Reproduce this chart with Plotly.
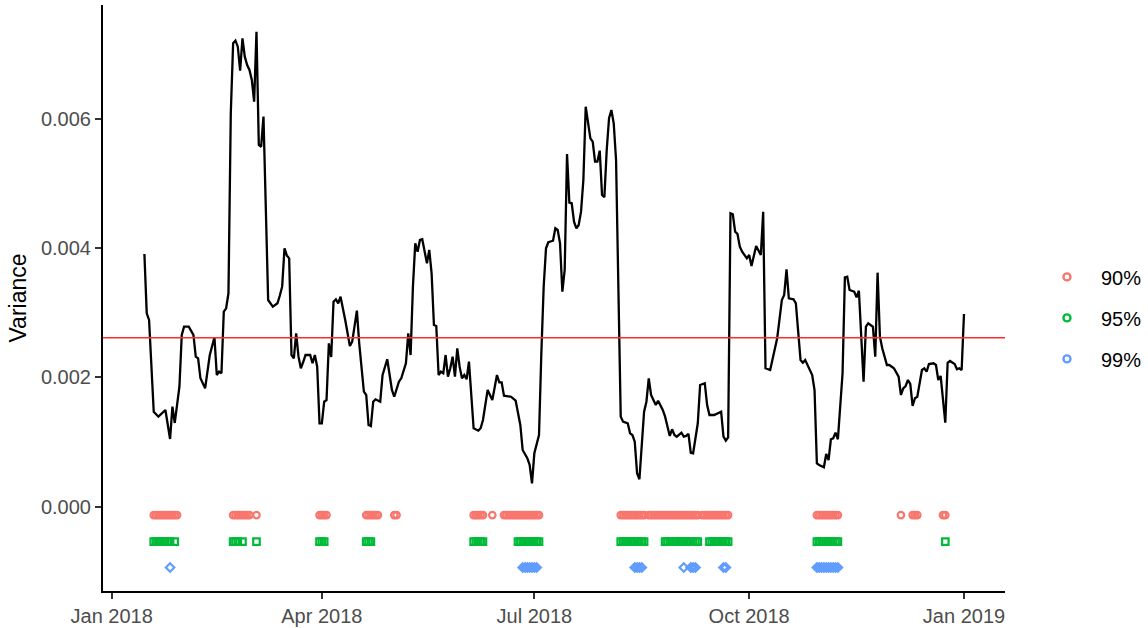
import pandas as pd
import plotly.graph_objects as go

# ---- data ----
dates = [
    "2018-01-15", "2018-01-16", "2018-01-17", "2018-01-19", "2018-01-21", "2018-01-24", "2018-01-26", "2018-01-27",
    "2018-01-28", "2018-01-30", "2018-01-31", "2018-02-01", "2018-02-03", "2018-02-05", "2018-02-06", "2018-02-07",
    "2018-02-08", "2018-02-10", "2018-02-12", "2018-02-14", "2018-02-15", "2018-02-16", "2018-02-17", "2018-02-18",
    "2018-02-19", "2018-02-20", "2018-02-21", "2018-02-22", "2018-02-23", "2018-02-24", "2018-02-25", "2018-02-26",
    "2018-02-27", "2018-02-28", "2018-03-01", "2018-03-02", "2018-03-03", "2018-03-04", "2018-03-05", "2018-03-06",
    "2018-03-07", "2018-03-09", "2018-03-11", "2018-03-13", "2018-03-14", "2018-03-15", "2018-03-16", "2018-03-17",
    "2018-03-18", "2018-03-19", "2018-03-20", "2018-03-21", "2018-03-22", "2018-03-23", "2018-03-24", "2018-03-25",
    "2018-03-27", "2018-03-28", "2018-03-29", "2018-03-30", "2018-03-31", "2018-04-01", "2018-04-02", "2018-04-03",
    "2018-04-04", "2018-04-05", "2018-04-06", "2018-04-07", "2018-04-08", "2018-04-09", "2018-04-11", "2018-04-13",
    "2018-04-14", "2018-04-16", "2018-04-17", "2018-04-19", "2018-04-20", "2018-04-21", "2018-04-22", "2018-04-23",
    "2018-04-24", "2018-04-26", "2018-04-27", "2018-04-29", "2018-05-01", "2018-05-02", "2018-05-04", "2018-05-05",
    "2018-05-07", "2018-05-08", "2018-05-09", "2018-05-10", "2018-05-11", "2018-05-12", "2018-05-13", "2018-05-14",
    "2018-05-16", "2018-05-17", "2018-05-18", "2018-05-19", "2018-05-20", "2018-05-21", "2018-05-22", "2018-05-23",
    "2018-05-24", "2018-05-25", "2018-05-26", "2018-05-27", "2018-05-28", "2018-05-29", "2018-05-30", "2018-05-31",
    "2018-06-01", "2018-06-02", "2018-06-03", "2018-06-05", "2018-06-07", "2018-06-08", "2018-06-09", "2018-06-11",
    "2018-06-13", "2018-06-15", "2018-06-16", "2018-06-17", "2018-06-18", "2018-06-21", "2018-06-23", "2018-06-25",
    "2018-06-26", "2018-06-28", "2018-06-29", "2018-06-30", "2018-07-01", "2018-07-02", "2018-07-03", "2018-07-04",
    "2018-07-05", "2018-07-06", "2018-07-07", "2018-07-09", "2018-07-10", "2018-07-11", "2018-07-12", "2018-07-13",
    "2018-07-14", "2018-07-15", "2018-07-16", "2018-07-17", "2018-07-18", "2018-07-19", "2018-07-20", "2018-07-21",
    "2018-07-22", "2018-07-23", "2018-07-24", "2018-07-25", "2018-07-26", "2018-07-27", "2018-07-28", "2018-07-29",
    "2018-07-30", "2018-07-31", "2018-08-01", "2018-08-02", "2018-08-03", "2018-08-04", "2018-08-05", "2018-08-07",
    "2018-08-08", "2018-08-10", "2018-08-11", "2018-08-12", "2018-08-13", "2018-08-14", "2018-08-15", "2018-08-16",
    "2018-08-17", "2018-08-18", "2018-08-19", "2018-08-20", "2018-08-22", "2018-08-23", "2018-08-25", "2018-08-26",
    "2018-08-28", "2018-08-29", "2018-08-30", "2018-08-31", "2018-09-01", "2018-09-02", "2018-09-03", "2018-09-04",
    "2018-09-05", "2018-09-06", "2018-09-07", "2018-09-09", "2018-09-10", "2018-09-12", "2018-09-13", "2018-09-14",
    "2018-09-16", "2018-09-19", "2018-09-20", "2018-09-21", "2018-09-22", "2018-09-23", "2018-09-24", "2018-09-25",
    "2018-09-26", "2018-09-27", "2018-09-28", "2018-09-30", "2018-10-01", "2018-10-02", "2018-10-04", "2018-10-06",
    "2018-10-07", "2018-10-08", "2018-10-10", "2018-10-12", "2018-10-13", "2018-10-15", "2018-10-16", "2018-10-17",
    "2018-10-18", "2018-10-20", "2018-10-21", "2018-10-23", "2018-10-24", "2018-10-25", "2018-10-26", "2018-10-28",
    "2018-10-29", "2018-10-30", "2018-10-31", "2018-11-02", "2018-11-03", "2018-11-04", "2018-11-05", "2018-11-06",
    "2018-11-07", "2018-11-08", "2018-11-10", "2018-11-11", "2018-11-12", "2018-11-13", "2018-11-15", "2018-11-16",
    "2018-11-17", "2018-11-18", "2018-11-19", "2018-11-20", "2018-11-21", "2018-11-23", "2018-11-24", "2018-11-25",
    "2018-11-26", "2018-11-27", "2018-11-29", "2018-11-30", "2018-12-02", "2018-12-04", "2018-12-05", "2018-12-06",
    "2018-12-07", "2018-12-08", "2018-12-09", "2018-12-10", "2018-12-11", "2018-12-12", "2018-12-14", "2018-12-15",
    "2018-12-16", "2018-12-17", "2018-12-19", "2018-12-20", "2018-12-21", "2018-12-22", "2018-12-24", "2018-12-25",
    "2018-12-26", "2018-12-28", "2018-12-29", "2018-12-30", "2018-12-31", "2019-01-01",
]

variance = [
    0.003909, 0.002992, 0.002888, 0.001469, 0.001392, 0.001496, 0.001047, 0.001547,
    0.001295, 0.001856, 0.002656, 0.002784, 0.002784, 0.002656, 0.002320, 0.002295,
    0.001986, 0.001831, 0.002346, 0.002620, 0.002037, 0.002088, 0.002063, 0.003016,
    0.003069, 0.003301, 0.006085, 0.007168, 0.007208, 0.007115, 0.006744, 0.007245,
    0.006961, 0.006832, 0.006755, 0.006600, 0.006265, 0.007347, 0.005595, 0.005568,
    0.006033, 0.003197, 0.003094, 0.003146, 0.003267, 0.003403, 0.003997, 0.003886,
    0.003842, 0.002346, 0.002295, 0.002682, 0.002320, 0.002141, 0.002238, 0.002346,
    0.002346, 0.002218, 0.002346, 0.002166, 0.001290, 0.001290, 0.001624, 0.001650,
    0.002527, 0.002316, 0.003171, 0.003208, 0.003146, 0.003248, 0.002888, 0.002486,
    0.002552, 0.003032, 0.002527, 0.001779, 0.001728, 0.001264, 0.001248, 0.001624,
    0.001661, 0.001624, 0.002037, 0.002280, 0.001805, 0.001701, 0.001934, 0.001986,
    0.002218, 0.002682, 0.002346, 0.003403, 0.004074, 0.003944, 0.004125, 0.004136,
    0.003765, 0.003971, 0.003610, 0.002811, 0.002795, 0.002037, 0.002088, 0.002063,
    0.002346, 0.002011, 0.002141, 0.002320, 0.002011, 0.002450, 0.002166, 0.001986,
    0.002037, 0.001971, 0.002243, 0.001213, 0.001176, 0.001213, 0.001341, 0.001805,
    0.001650, 0.002037, 0.001924, 0.001924, 0.001717, 0.001701, 0.001640, 0.001264,
    0.000877, 0.000749, 0.000645, 0.000362, 0.000826, 0.000970, 0.001109, 0.002373,
    0.003403, 0.003997, 0.004090, 0.004114, 0.004306, 0.004280, 0.004074, 0.003326,
    0.003661, 0.005456, 0.004702, 0.004693, 0.004408, 0.004306, 0.004357, 0.004563,
    0.005053, 0.006187, 0.005930, 0.005698, 0.005646, 0.005336, 0.005336, 0.005507,
    0.004821, 0.004786, 0.005517, 0.006008, 0.006136, 0.005930, 0.005363, 0.001392,
    0.001315, 0.001290, 0.001135, 0.001109, 0.001005, 0.000517, 0.000424, 0.000928,
    0.001469, 0.001624, 0.001986, 0.001728, 0.001573, 0.001640, 0.001496, 0.001392,
    0.001094, 0.001197, 0.001109, 0.001083, 0.001109, 0.001145, 0.001083, 0.001094,
    0.001125, 0.000835, 0.000826, 0.001290, 0.001882, 0.001909, 0.001573, 0.001418,
    0.001418, 0.001469, 0.001083, 0.001021, 0.001073, 0.004538, 0.004523, 0.004254,
    0.004218, 0.004022, 0.003944, 0.003842, 0.003893, 0.003723, 0.004033, 0.003893,
    0.004563, 0.002141, 0.002114, 0.002475, 0.002605, 0.003197, 0.003275, 0.003672,
    0.003224, 0.003208, 0.003146, 0.002269, 0.002227, 0.002269, 0.002192, 0.002037,
    0.001805, 0.000671, 0.000645, 0.000609, 0.000815, 0.000722, 0.001043, 0.001058,
    0.001145, 0.001043, 0.002063, 0.003548, 0.003558, 0.003352, 0.003326, 0.003239,
    0.003341, 0.002707, 0.001934, 0.002784, 0.002837, 0.002784, 0.002320, 0.003620,
    0.002630, 0.002450, 0.002192, 0.002192, 0.002141, 0.002011, 0.001728, 0.001831,
    0.001867, 0.001960, 0.001898, 0.001558, 0.001677, 0.001701, 0.002114, 0.002141,
    0.002088, 0.002207, 0.002218, 0.002192, 0.001960, 0.002022, 0.001299, 0.002227,
    0.002254, 0.002207, 0.002125, 0.002141, 0.002114, 0.002981,
]

mean_variance = 0.002614

levels = ["90%", "95%", "99%"]
level_y = [-0.00013, -0.00054, -0.00094]
level_colors = ["#F8766D", "#00BA38", "#619CFF"]
level_symbols = ["circle-open", "square-open", "diamond-open"]

# runs of days flagged at each level (start, end)
runs_90 = [
    ("2018-01-19", "2018-01-29"), ("2018-02-22", "2018-03-01"), ("2018-03-04", "2018-03-04"),
    ("2018-03-31", "2018-04-03"), ("2018-04-20", "2018-04-25"), ("2018-05-02", "2018-05-03"),
    ("2018-06-05", "2018-06-09"), ("2018-06-13", "2018-06-13"), ("2018-06-18", "2018-07-03"),
    ("2018-08-07", "2018-08-17"), ("2018-08-19", "2018-09-09"), ("2018-09-11", "2018-09-22"),
    ("2018-10-30", "2018-11-08"), ("2018-12-05", "2018-12-05"), ("2018-12-10", "2018-12-12"),
    ("2018-12-23", "2018-12-24"),
]
runs_95 = [
    ("2018-01-19", "2018-01-26"), ("2018-01-28", "2018-01-28"), ("2018-02-22", "2018-02-24"),
    ("2018-02-26", "2018-02-26"), ("2018-03-04", "2018-03-04"), ("2018-03-31", "2018-04-02"),
    ("2018-04-20", "2018-04-22"), ("2018-06-05", "2018-06-09"), ("2018-06-24", "2018-07-03"),
    ("2018-08-07", "2018-08-17"), ("2018-08-26", "2018-09-09"), ("2018-09-14", "2018-09-22"),
    ("2018-10-30", "2018-11-08"), ("2018-12-24", "2018-12-24"),
]
runs_99 = [
    ("2018-01-26", "2018-01-26"), ("2018-06-26", "2018-07-02"), ("2018-08-13", "2018-08-16"),
    ("2018-09-03", "2018-09-03"), ("2018-09-06", "2018-09-08"), ("2018-09-20", "2018-09-21"),
    ("2018-10-30", "2018-11-08"),
]
level_runs = [runs_90, runs_95, runs_99]

tick_dates = ["2018-01-01", "2018-04-01", "2018-07-01", "2018-10-01", "2019-01-01"]
tick_text = ["Jan 2018", "Apr 2018", "Jul 2018", "Oct 2018", "Jan 2019"]
y_ticks = [0.000, 0.002, 0.004, 0.006]

# ---- figure ----
fig = go.Figure()

fig.add_trace(go.Scatter(
    x=pd.to_datetime(dates), y=variance, mode="lines",
    line=dict(color="black", width=2.3), showlegend=False, hoverinfo="skip",
))

fig.add_hline(y=mean_variance, line=dict(color="#FF2A2A", width=1.6), layer="above")

for name, yv, col, sym, runs in zip(levels, level_y, level_colors, level_symbols, level_runs):
    days = []
    for s, e in runs:
        days.extend(pd.date_range(s, e, freq="D"))
    fig.add_trace(go.Scatter(
        x=days, y=[yv] * len(days), mode="markers",
        marker=dict(symbol=sym, size=6.5, color=col, line=dict(width=2.2, color=col)),
        showlegend=False, hoverinfo="skip",
    ))
    # legend entry
    fig.add_trace(go.Scatter(
        x=[None], y=[None], mode="markers", name=name, legendgroup=name,
        marker=dict(symbol="circle-open", size=7, color=col, line=dict(width=2.4, color=col)),
    ))

fig.update_layout(
    width=1148, height=628,
    margin=dict(l=103, r=143, t=5, b=37, autoexpand=False),
    paper_bgcolor="white", plot_bgcolor="white",
    font=dict(family="Liberation Sans, Arial, sans-serif", size=20, color="black"),
    legend=dict(
        x=1.031, xanchor="left", y=0.466, yanchor="middle",
        font=dict(size=20, color="black"), tracegroupgap=12,
        itemwidth=58, bgcolor="rgba(0,0,0,0)",
    ),
)

fig.update_xaxes(
    range=["2017-12-28 06:30", "2019-01-18 13:40"],
    tickvals=pd.to_datetime(tick_dates), ticktext=tick_text,
    showline=True, linecolor="black", linewidth=2,
    ticks="outside", ticklen=6, tickwidth=1.5, tickcolor="#333333",
    tickfont=dict(size=20, color="#4D4D4D"),
    showgrid=False, zeroline=False, automargin=False,
)
fig.update_yaxes(
    range=[-0.001304, 0.00776],
    tickvals=y_ticks, tickformat=".3f",
    showline=True, linecolor="black", linewidth=2,
    ticks="outside", ticklen=6, tickwidth=1.5, tickcolor="#333333",
    tickfont=dict(size=20, color="#4D4D4D"),
    title=dict(text="Variance", font=dict(size=23, color="black"), standoff=8),
    showgrid=False, zeroline=False, automargin=False,
)

fig.write_html(
    "out.html",
    config={"displayModeBar": False},
    post_script="document.body.style.margin='0';document.body.style.overflow='hidden';",
)
